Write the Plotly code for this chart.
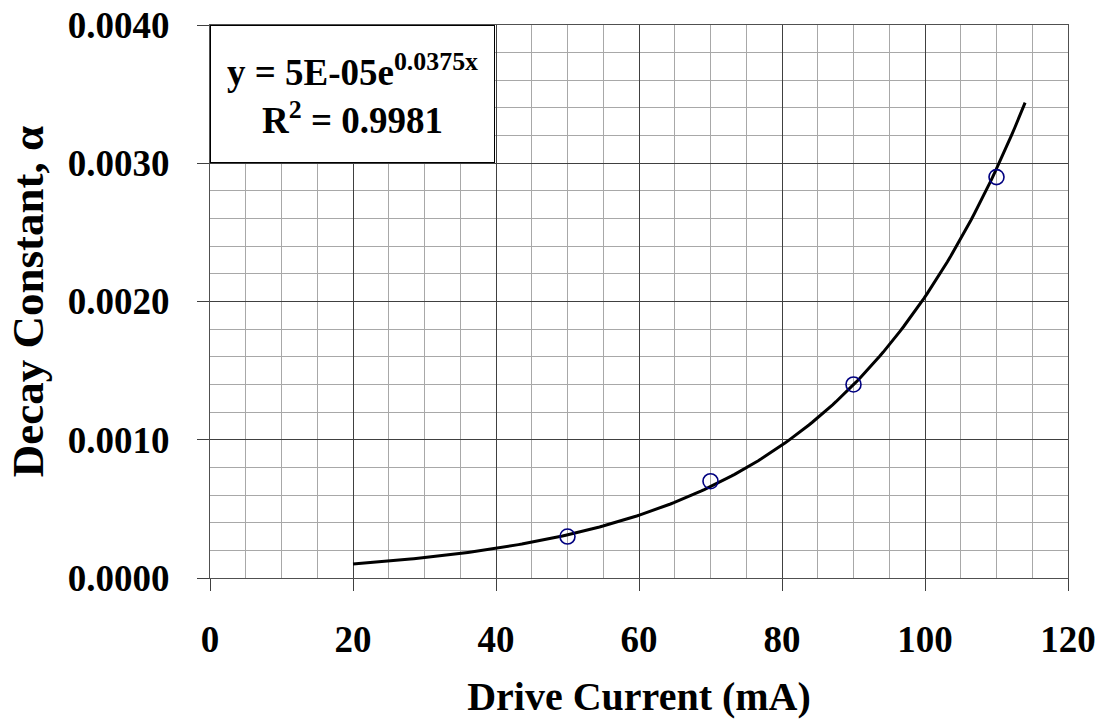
import numpy as np
import plotly.graph_objects as go

# Data
drive_current = [50, 70, 90, 110]
decay_constant = [0.0003, 0.0007, 0.0014, 0.0029]
fit_x_range = [20, 114]
x_ticks = [0, 20, 40, 60, 80, 100, 120]
y_ticks = [0.0, 0.001, 0.002, 0.003, 0.004]

# exponential trendline (least squares on log)
xs = np.array(drive_current, float)
ys = np.log(np.array(decay_constant, float))
b, lna = np.polyfit(xs, ys, 1)
fx = np.linspace(fit_x_range[0], fit_x_range[1], 200)
fy = np.exp(lna) * np.exp(b * fx)

FONT = "Liberation Serif"
fig = go.Figure()
fig.add_trace(go.Scatter(x=fx, y=fy, mode="lines",
                         line=dict(color="black", width=3), hoverinfo="skip"))
fig.add_trace(go.Scatter(x=drive_current, y=decay_constant, mode="markers",
                         marker=dict(symbol="circle-open", size=15,
                                     color="#000080", line=dict(width=1.6, color="#000080"))))

fig.update_layout(
    width=1105, height=727,
    margin=dict(l=210, r=37, t=25, b=149),
    paper_bgcolor="white", plot_bgcolor="white",
    showlegend=False,
    font=dict(family=FONT, size=37, color="black"),
)
fig.update_xaxes(
    range=[0, 120], tickvals=x_ticks, ticktext=[f"<b>{v}</b>" for v in x_ticks],
    ticks="outside", ticklen=12, tickcolor="#404040", tickwidth=1,
    ticklabelstandoff=17, automargin=False,
    showgrid=True, gridcolor="#404040", gridwidth=1,
    minor=dict(dtick=5, showgrid=True, gridcolor="#a8a8a8", gridwidth=1),
    showline=True, linecolor="#505050", linewidth=1, mirror=True,
    zeroline=False,
    tickfont=dict(family=FONT, size=37, color="black"),
    title=dict(text="<b>Drive Current (mA)</b>", font=dict(family=FONT, size=40), standoff=22),
)
fig.update_yaxes(
    range=[0, 0.004], tickvals=y_ticks, ticktext=[f"<b>{v:.4f}</b>" for v in y_ticks],
    ticks="outside", ticklen=12, tickcolor="#404040", tickwidth=1,
    ticklabelstandoff=20, automargin=False,
    showgrid=True, gridcolor="#404040", gridwidth=1,
    minor=dict(dtick=0.0002, showgrid=True, gridcolor="#a8a8a8", gridwidth=1),
    showline=True, linecolor="#505050", linewidth=1, mirror=True,
    zeroline=False,
    tickfont=dict(family=FONT, size=37, color="black"),
    title=dict(text="<b>Decay Constant, α</b>", font=dict(family=FONT, size=45), standoff=10),
)

fig.add_annotation(
    xref="paper", yref="paper", x=0, y=1, xanchor="left", yanchor="top",
    text="<b>y = 5E-05e<sup>0.0375x</sup></b><br><b>R<sup>2</sup> = 0.9981</b>",
    showarrow=False, align="center",
    width=283, height=136, borderpad=0, borderwidth=1,
    bordercolor="black", bgcolor="white",
    font=dict(family=FONT, size=37, color="black"),
)

fig.write_html("out.html")
